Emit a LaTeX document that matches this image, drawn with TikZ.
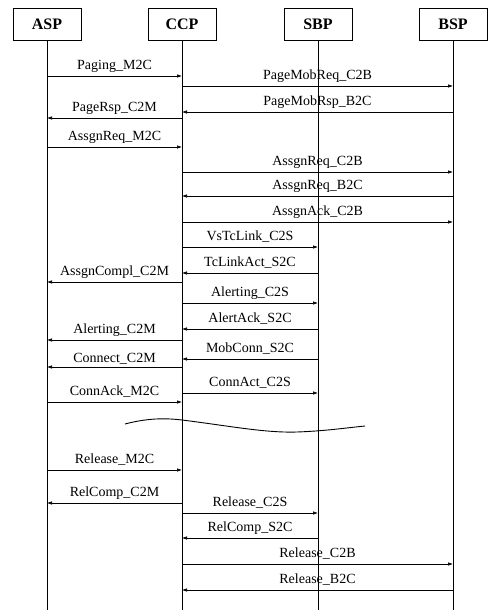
\documentclass[tikz,border=0pt]{standalone}
\usepackage{fontspec}
\setmainfont{Liberation Serif}
\usetikzlibrary{arrows.meta}

\begin{document}
\begin{tikzpicture}[
    x=1pt, y=-1pt,
    >={Latex[length=5pt,width=3.5pt]},
    entity/.style={rectangle, draw, line width=0.7pt, minimum width=68pt, minimum height=32pt, inner sep=0pt, font=\fontsize{16}{18}\selectfont\bfseries},
    life/.style={line width=0.7pt},
    msg/.style={->, line width=0.6pt},
    lbl/.style={anchor=base, yshift=6.5pt, inner sep=0pt, font=\fontsize{14}{16}\selectfont}
  ]
    \useasboundingbox (0,0) rectangle (487,610);
    % process boxes
    \node[entity] (asp) at (47,24) {ASP};
    \node[entity] (ccp) at (182,24) {CCP};
    \node[entity] (sbp) at (318,24) {SBP};
    \node[entity] (bsp) at (453,24) {BSP};
    % lifelines
    \draw[life] (asp.south) -- (asp.south |- 0,610);
    \draw[life] (ccp.south) -- (ccp.south |- 0,610);
    \draw[life] (sbp.south) -- (sbp.south |- 0,610);
    \draw[life] (bsp.south) -- (bsp.south |- 0,610);
    % paging
    \draw[msg] (asp |- 0,76) -- node[lbl] {Paging\_M2C} (ccp |- 0,76);
    \draw[msg] (ccp |- 0,86) -- node[lbl] {PageMobReq\_C2B} (bsp |- 0,86);
    \draw[msg] (bsp |- 0,112) -- node[lbl] {PageMobRsp\_B2C} (ccp |- 0,112);
    \draw[msg] (ccp |- 0,118) -- node[lbl] {PageRsp\_C2M} (asp |- 0,118);
    % assignment
    \draw[msg] (asp |- 0,147) -- node[lbl] {AssgnReq\_M2C} (ccp |- 0,147);
    \draw[msg] (ccp |- 0,172) -- node[lbl] {AssgnReq\_C2B} (bsp |- 0,172);
    \draw[msg] (bsp |- 0,196) -- node[lbl] {AssgnReq\_B2C} (ccp |- 0,196);
    \draw[msg] (ccp |- 0,222) -- node[lbl] {AssgnAck\_C2B} (bsp |- 0,222);
    \draw[msg] (ccp |- 0,247) -- node[lbl] {VsTcLink\_C2S} (sbp |- 0,247);
    \draw[msg] (sbp |- 0,273) -- node[lbl] {TcLinkAct\_S2C} (ccp |- 0,273);
    \draw[msg] (ccp |- 0,282) -- node[lbl] {AssgnCompl\_C2M} (asp |- 0,282);
    % alerting and connect
    \draw[msg] (ccp |- 0,303) -- node[lbl] {Alerting\_C2S} (sbp |- 0,303);
    \draw[msg] (sbp |- 0,329) -- node[lbl] {AlertAck\_S2C} (ccp |- 0,329);
    \draw[msg] (ccp |- 0,340) -- node[lbl] {Alerting\_C2M} (asp |- 0,340);
    \draw[msg] (sbp |- 0,359) -- node[lbl] {MobConn\_S2C} (ccp |- 0,359);
    \draw[msg] (ccp |- 0,367) -- node[lbl, yshift=-1.5pt] {Connect\_C2M} (asp |- 0,367);
    \draw[msg] (ccp |- 0,393) -- node[lbl] {ConnAct\_C2S} (sbp |- 0,393);
    \draw[msg] (asp |- 0,402) -- node[lbl] {ConnAck\_M2C} (ccp |- 0,402);
    % break
    \draw[line width=0.9pt] (125,424) .. controls (148,418) and (165,418) .. (182,420)
      .. controls (230,426) and (265,433) .. (297,432)
      .. controls (325,431) and (345,428) .. (365,426);
    % release
    \draw[msg] (asp |- 0,470) -- node[lbl] {Release\_M2C} (ccp |- 0,470);
    \draw[msg] (ccp |- 0,503) -- node[lbl] {RelComp\_C2M} (asp |- 0,503);
    \draw[msg] (ccp |- 0,513) -- node[lbl] {Release\_C2S} (sbp |- 0,513);
    \draw[msg] (sbp |- 0,538) -- node[lbl] {RelComp\_S2C} (ccp |- 0,538);
    \draw[msg] (ccp |- 0,564) -- node[lbl] {Release\_C2B} (bsp |- 0,564);
    \draw[msg] (bsp |- 0,590) -- node[lbl] {Release\_B2C} (ccp |- 0,590);
  \end{tikzpicture}
\end{document}
